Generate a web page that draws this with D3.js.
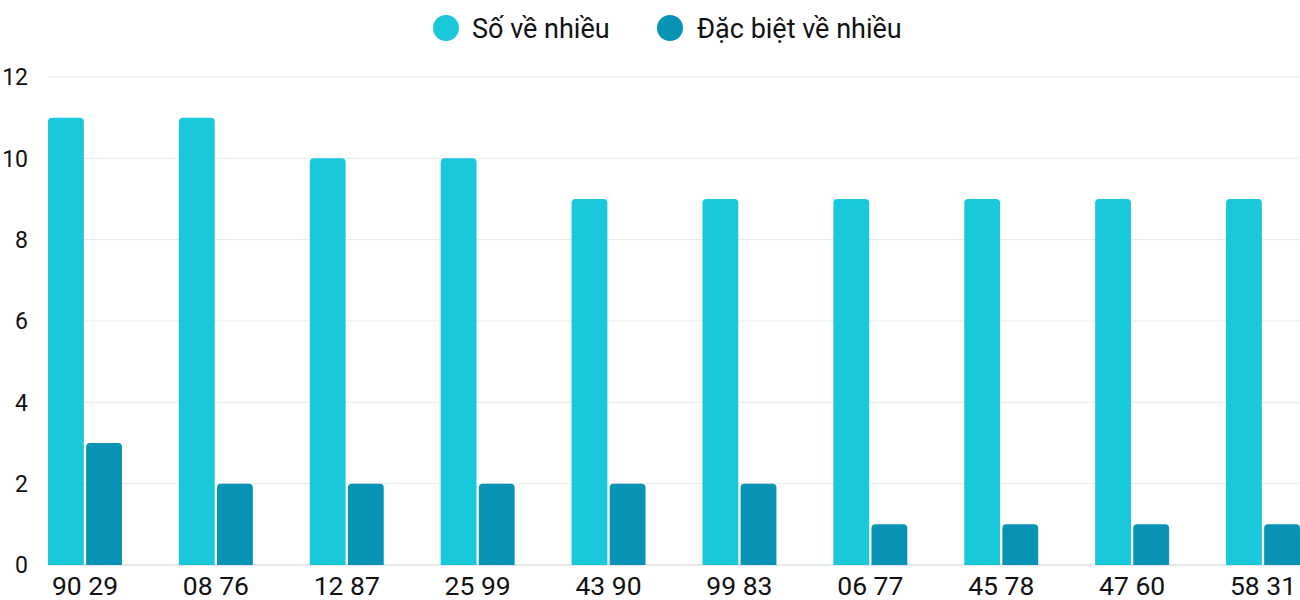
<!DOCTYPE html>
<html><head><meta charset="utf-8">
<script src="https://cdn.jsdelivr.net/npm/d3@7/dist/d3.min.js"></script>
<style>body{margin:0;background:#fff}svg{display:block;font-family:Roboto,"Noto Sans",sans-serif}</style>
</head><body><svg id="c" width="1300" height="600"></svg>
<script>
const categories = ["90 29","08 76","12 87","25 99","43 90","99 83","06 77","45 78","47 60","58 31"];
const seriesNames = ["Số về nhiều","Đặc biệt về nhiều"];
const soVeNhieu = [11,11,10,10,9,9,9,9,9,9];
const dacBietVeNhieu = [3,2,2,2,2,2,1,1,1,1];
const yTicks = [0,2,4,6,8,10,12];
const colors = ["#1ac8db","#0693b6"];

(function(){
const svg = d3.select("#c");
const mLeft = 48, mRight = 1300, mTop = 77, mBottom = 565;
const x = d3.scaleBand().domain(categories).range([mLeft, mRight]).paddingInner(0.435).paddingOuter(0);
const xi = d3.scaleBand().domain([0,1]).range([0, x.bandwidth()]).paddingInner(0.06);
const y = d3.scaleLinear().domain([0,12]).range([mBottom, mTop]);

svg.append("g").selectAll("line").data(yTicks).join("line")
  .attr("x1", mLeft).attr("x2", mRight)
  .attr("y1", d => y(d)).attr("y2", d => y(d))
  .attr("stroke", d => d === 0 ? "#cfcfcf" : "#e8e8e8").attr("stroke-width", 1);

svg.append("g").selectAll("text").data(yTicks).join("text")
  .attr("x", 28).attr("y", d => y(d)).attr("dy", "0.36em")
  .attr("text-anchor", "end").attr("font-size", 23).attr("fill", "#111")
  .text(d => d);

function roundTop(x0, y0, w, h, r) {
  r = Math.min(r, h, w / 2);
  return `M${x0},${y0 + h}V${y0 + r}Q${x0},${y0} ${x0 + r},${y0}H${x0 + w - r}Q${x0 + w},${y0} ${x0 + w},${y0 + r}V${y0 + h}Z`;
}

const data = categories.map((c, i) => ({c, vals: [soVeNhieu[i], dacBietVeNhieu[i]]}));
const g = svg.append("g").selectAll("g").data(data).join("g")
  .attr("transform", d => `translate(${x(d.c)},0)`);
g.selectAll("path").data(d => d.vals.map((v, k) => ({v, k}))).join("path")
  .attr("d", d => roundTop(xi(d.k), y(d.v), xi.bandwidth(), y(0) - y(d.v), 4))
  .attr("fill", d => colors[d.k]);

svg.append("g").selectAll("text").data(categories).join("text")
  .attr("x", d => x(d) + x.bandwidth() / 2).attr("y", 595)
  .attr("text-anchor", "middle").attr("font-size", 26.5).attr("fill", "#111")
  .text(d => d);

const leg = [{n: seriesNames[0], cx: 446, tx: 472}, {n: seriesNames[1], cx: 670, tx: 697}];
const lg = svg.append("g");
lg.selectAll("circle").data(leg).join("circle")
  .attr("cx", d => d.cx).attr("cy", 28).attr("r", 13)
  .attr("fill", (d, i) => colors[i]);
lg.selectAll("text").data(leg).join("text")
  .attr("x", d => d.tx).attr("y", 37.5)
  .attr("font-size", 27).attr("fill", "#111").text(d => d.n);
})();
</script></body></html>
